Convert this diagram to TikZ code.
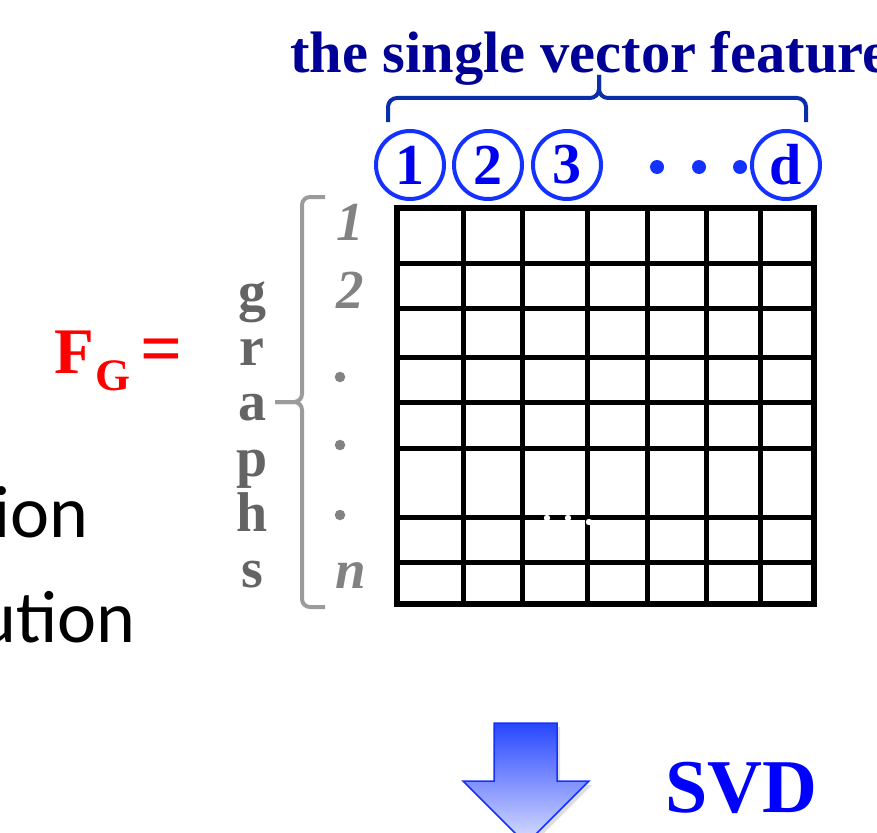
\documentclass[tikz,border=0pt]{standalone}
\usepackage{fontspec}
\setmainfont{Liberation Serif}
\newfontfamily\calibri{Carlito}
\usetikzlibrary{shadows}
\definecolor{navyt}{RGB}{0,0,150}
\definecolor{featblue}{RGB}{20,50,255}
\definecolor{digblue}{RGB}{0,0,240}
\definecolor{bracenavy}{RGB}{10,45,170}
\definecolor{lblgray}{RGB}{130,130,130}
\definecolor{grgray}{RGB}{100,100,100}
\definecolor{brgray}{RGB}{155,155,155}

\begin{document}
\begin{tikzpicture}[x=1pt,y=-1pt,
every node/.style={inner sep=0pt},
fsz/.style={font=\fontsize{#1}{#1}\selectfont\bfseries},
circ/.style={circle,draw=featblue,line width=4pt,minimum size=68pt,text=digblue,fsz=58},
rowlbl/.style={anchor=base,text=lblgray,font=\fontsize{55}{55}\selectfont\bfseries\itshape},
rowdot/.style={circle,fill=lblgray,minimum size=10.5pt},
grlbl/.style={anchor=base,text=grgray,fsz=56},
gridln/.style={line width=5pt}]
\useasboundingbox (0,0) rectangle (877,832);

% title and brace
\node[anchor=base west,text=navyt,fsz=58.5] (title) at (290,73) {the single vector feature};
\draw[bracenavy,line width=4pt,rounded corners=9pt] (388,122) |- (599,98) -- (599,75);
\draw[bracenavy,line width=4pt,rounded corners=9pt] (806,122) |- (599,98) -- (599,75);

% feature indices
\foreach \t/\x [count=\i] in {1/410,2/488,3/567,d/786}
  \node[circ] (c\i) at (\x,165) {\t};
\foreach \x in {657,699,740} \fill[featblue] (\x,167) circle (7pt);

% the matrix
\draw[line width=6.5pt] (397,208) rectangle (814,604);
\foreach \x in {463,522,587,647,706,760} \draw[gridln] (\x,208) -- (\x,604);
\foreach \y in {263,308,357,402,448,517,562} \draw[gridln] (397,\y) -- (814,\y);
\foreach \x/\y in {547/518,568/518,589/522} \fill[white] (\x,\y) circle (3.2pt);

% row labels
\node[rowlbl] (r1) at (350,240) {1};
\node[rowlbl] (r2) at (350,308) {2};
\foreach \y [count=\i] in {377,445,515} \node[rowdot] (rd\i) at (340,\y) {};
\node[rowlbl] (rn) at (351,588) {n};
\draw[brgray,line width=4pt,rounded corners=8pt] (325,197) -| (302,402) -- (275,402);
\draw[brgray,line width=4pt,rounded corners=8pt] (325,607) -| (302,402) -- (275,402);
\foreach \c [count=\i from 0] in {g,r,a,p,h,s}
  \node[grlbl] (gr\i) at (252,{310+55.4*\i}) {\c};

% F_G =
\node[anchor=base west,text=red,fsz=65] (fg) at (54,373) {F\hspace{2pt}\raisebox{-17pt}{\fontsize{45}{45}\selectfont G}\hspace{10pt}{\fontsize{74}{74}\selectfont=}};

% cut-off text on the left
\node[anchor=base east,font=\calibri\fontsize{74}{74}\selectfont] (t1) at (89,537) {ion};
\node[anchor=base east,font=\calibri\fontsize{74}{74}\selectfont] (t2) at (136,642) {ution};

% arrow and SVD
\shade[top color={rgb,255:red,40;green,70;blue,255},bottom color={rgb,255:red,220;green,224;blue,255},
  draw=featblue,line width=1.5pt,drop shadow={opacity=0.25,shadow xshift=3pt,shadow yshift=-4pt}]
  (494,723) -- (557,723) -- (557,781) -- (589,781) -- (526,844) -- (463,781) -- (494,781) -- cycle;
\node[anchor=base west,text=blue,fsz=76] (svd) at (665,812) {SVD};
\end{tikzpicture}
\end{document}
